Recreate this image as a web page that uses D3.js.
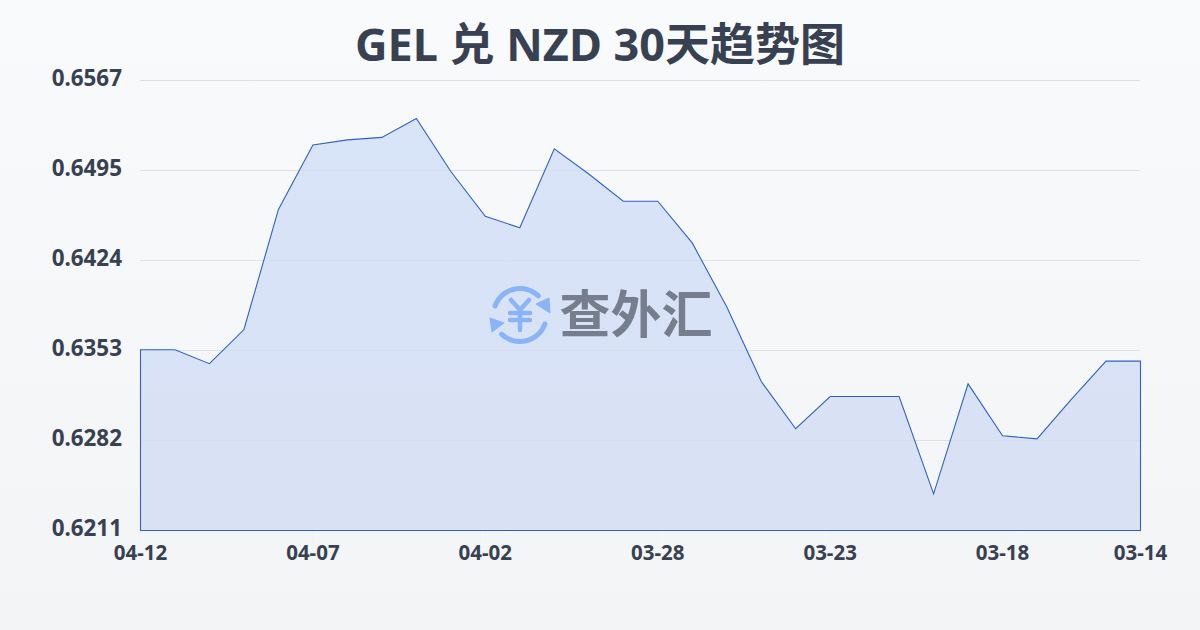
<!DOCTYPE html>
<html><head><meta charset="utf-8">
<script src="https://cdn.jsdelivr.net/npm/d3@7/dist/d3.min.js"></script>
<style>html,body{margin:0;padding:0;width:1200px;height:630px;overflow:hidden}
svg{display:block}text{font-family:"Noto Sans","Noto Sans CJK SC",sans-serif}</style></head>
<body><svg id="c" width="1200" height="630"></svg>
<script>
const titleText = "GEL 兑 NZD 30天趋势图";
const dates = ["04-12","04-11","04-10","04-09","04-08","04-07","04-06","04-05","04-04","04-03","04-02","04-01","03-31","03-30","03-29","03-28","03-27","03-26","03-25","03-24","03-23","03-22","03-21","03-20","03-19","03-18","03-17","03-16","03-15","03-14"];
const rates = [0.6354,0.6354,0.6343,0.6370,0.6465,0.6516,0.6520,0.6522,0.6537,0.6495,0.64595,0.64505,0.6513,0.6493,0.64715,0.64715,0.64385,0.6388,0.6329,0.62915,0.6317,0.6317,0.6317,0.6240,0.6327,0.6286,0.62835,0.6315,0.6345,0.6345];
const yTicks = [0.6211,0.6282,0.6353,0.6424,0.6495,0.6567];
const xLabels = ["04-12","04-07","04-02","03-28","03-23","03-18","03-14"];
const watermark = "查外汇";

const svg = d3.select("#c");
const defs = svg.append("defs");
const bg = defs.append("linearGradient").attr("id","bg").attr("x1",0).attr("y1",0).attr("x2",0).attr("y2",1);
bg.append("stop").attr("offset","0%").attr("stop-color","#f8fafc");
bg.append("stop").attr("offset","100%").attr("stop-color","#f3f4f6");
const af = defs.append("linearGradient").attr("id","af").attr("gradientUnits","userSpaceOnUse").attr("x1",0).attr("y1",118).attr("x2",0).attr("y2",530);
af.append("stop").attr("offset","0%").attr("stop-color","#d8e4f8");
af.append("stop").attr("offset","100%").attr("stop-color","#d9e1f4");
svg.append("rect").attr("width",1200).attr("height",630).attr("fill","url(#bg)");

const x = d3.scalePoint().domain(dates).range([140.5,1140.5]);
const y = d3.scaleLinear().domain([0.6211,0.6567]).range([530.5,80.5]);
const gridY = d3.scalePoint().domain(yTicks).range([530.5,80.5]);

svg.append("text").attr("x",600).attr("y",61).attr("text-anchor","middle")
  .attr("font-size",45).attr("font-weight",700).attr("fill","#374151").text(titleText);

svg.append("g").selectAll("line").data(yTicks).join("line")
  .attr("x1",140).attr("x2",1140).attr("y1",d=>gridY(d)).attr("y2",d=>gridY(d))
  .attr("stroke","#e5e7eb").attr("stroke-width",1);

svg.append("g").selectAll("line").data(xLabels).join("line")
  .attr("x1",d=>x(d)).attr("x2",d=>x(d)).attr("y1",531).attr("y2",541)
  .attr("stroke","#eef0f2").attr("stroke-width",1);

const area = d3.area().x(d=>x(d.d)).y0(y(0.6211)).y1(d=>y(d.v));
const pts = dates.map((d,i)=>({d,v:rates[i]}));
svg.append("path").datum(pts).attr("d",area).attr("fill","url(#af)").attr("stroke","none");

svg.append("g").selectAll("line").data(yTicks).join("line")
  .attr("x1",140).attr("x2",1140).attr("y1",d=>gridY(d)).attr("y2",d=>gridY(d))
  .attr("stroke","#cbd5e1").attr("stroke-opacity",0.35).attr("stroke-width",1);

svg.append("path").datum(pts).attr("d",area).attr("fill","none").attr("stroke","#2f62c4").attr("stroke-width",1.1);

svg.append("g").selectAll("text").data(yTicks).join("text")
  .attr("x",122).attr("y",d=>gridY(d)+5.5).attr("text-anchor","end")
  .attr("font-size",22.4).attr("font-weight",700).attr("fill","#374151").text(d=>d.toFixed(4));

svg.append("g").selectAll("text").data(xLabels).join("text")
  .attr("x",d=>x(d)).attr("y",560).attr("text-anchor","middle")
  .attr("font-size",20.5).attr("font-weight",700).attr("fill","#374151").text(d=>d);

const wm = svg.append("g");
const logo = wm.append("g").attr("transform","translate(520,315)");
const arc = d3.arc().innerRadius(24).outerRadius(29).cornerRadius(2.5);
const blue = "#8ab4f8";
logo.append("path").attr("d",arc({startAngle:-1.32,endAngle:0.86})).attr("fill",blue);
logo.append("path").attr("d",arc({startAngle:1.82,endAngle:4.0})).attr("fill",blue);
logo.append("path").attr("d","M16,-11L29,-17L30,-2Z").attr("fill",blue).attr("stroke",blue).attr("stroke-width",1);
logo.append("path").attr("d","M-30,3L-16,8L-28,17Z").attr("fill",blue).attr("stroke",blue).attr("stroke-width",1);
logo.append("path").attr("d","M-9,-15L0,-5L9,-15M0,-5V15M-10,-2H10M-10,5H10")
  .attr("fill","none").attr("stroke",blue).attr("stroke-width",4.5).attr("stroke-linecap","round");
wm.append("text").attr("x",636).attr("y",333).attr("text-anchor","middle").attr("font-size",51).attr("font-weight",700).attr("fill","#767e8e").text(watermark);
</script></body></html>
